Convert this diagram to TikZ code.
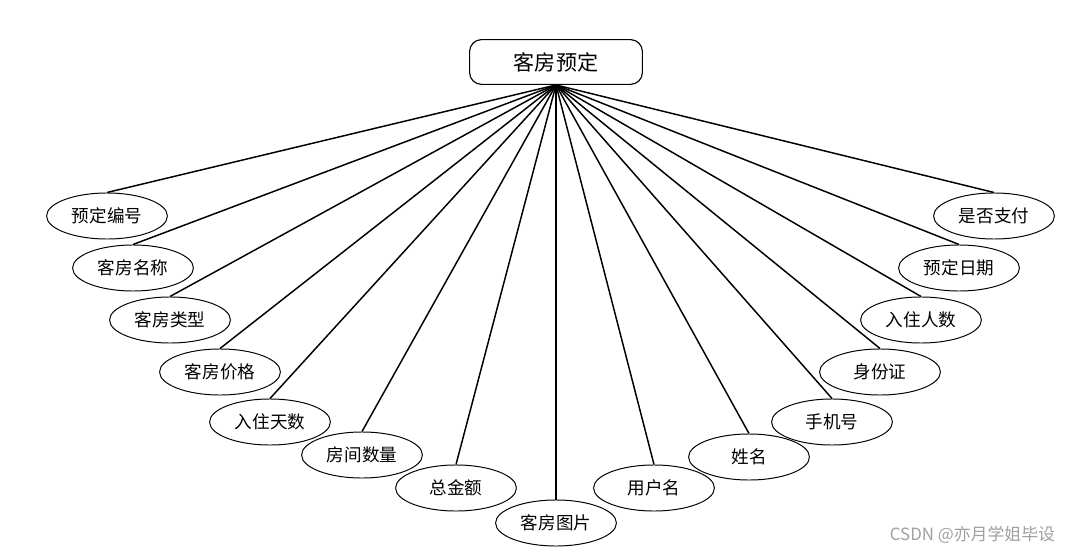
\documentclass[tikz,border=0pt]{standalone}
\usepackage{fontspec}
\setmainfont{Noto Sans CJK SC}
\usepackage{xcolor}
\usetikzlibrary{shapes.geometric}
\definecolor{erline}{HTML}{000000}
\definecolor{marktext}{HTML}{A0A0A0}
\tikzset{
  entity/.style={rounded corners=0.3cm, draw=erline, fill=white, line width=0.8pt, align=center, font=\fontsize{15}{18}\selectfont, minimum width=4.32cm, minimum height=1.12cm, inner sep=0pt},
  attrib/.style={ellipse, draw=erline, fill=white, line width=0.7pt, align=center, font=\fontsize{12.5}{14}\selectfont, minimum width=3.02cm, minimum height=1.15cm, inner sep=0pt},
  link/.style={line width=1.05pt, draw=erline}
}
\begin{document}
\begin{tikzpicture}[x=0.025cm,y=-0.025cm]
  \useasboundingbox (0,0) rectangle (1065,551);
  \node[entity] (booking) at (556,62) {客房预定};
  % attributes, left to right
  \node[attrib] (a1) at (107,216) {预定编号};
  \node[attrib] (a2) at (133,268) {客房名称};
  \node[attrib] (a3) at (170,320) {客房类型};
  \node[attrib] (a4) at (220,372) {客房价格};
  \node[attrib] (a5) at (270,422) {入住天数};
  \node[attrib] (a6) at (362,455) {房间数量};
  \node[attrib] (a7) at (456,488) {总金额};
  \node[attrib] (a8) at (556,523) {客房图片};
  \node[attrib] (a9) at (654,488) {用户名};
  \node[attrib] (a10) at (749,457) {姓名};
  \node[attrib] (a11) at (832,422) {手机号};
  \node[attrib] (a12) at (880,372) {身份证};
  \node[attrib] (a13) at (921,320) {入住人数};
  \node[attrib] (a14) at (959,268) {预定日期};
  \node[attrib] (a15) at (994,216) {是否支付};
  \foreach \i in {1,...,15}
    \draw[link] (booking.south) -- (a\i.north);
  \node[text=marktext, font=\fontsize{12}{14}\selectfont, anchor=east] (mark) at (1060,535) {CSDN @亦月学姐毕设};
\end{tikzpicture}
\end{document}
